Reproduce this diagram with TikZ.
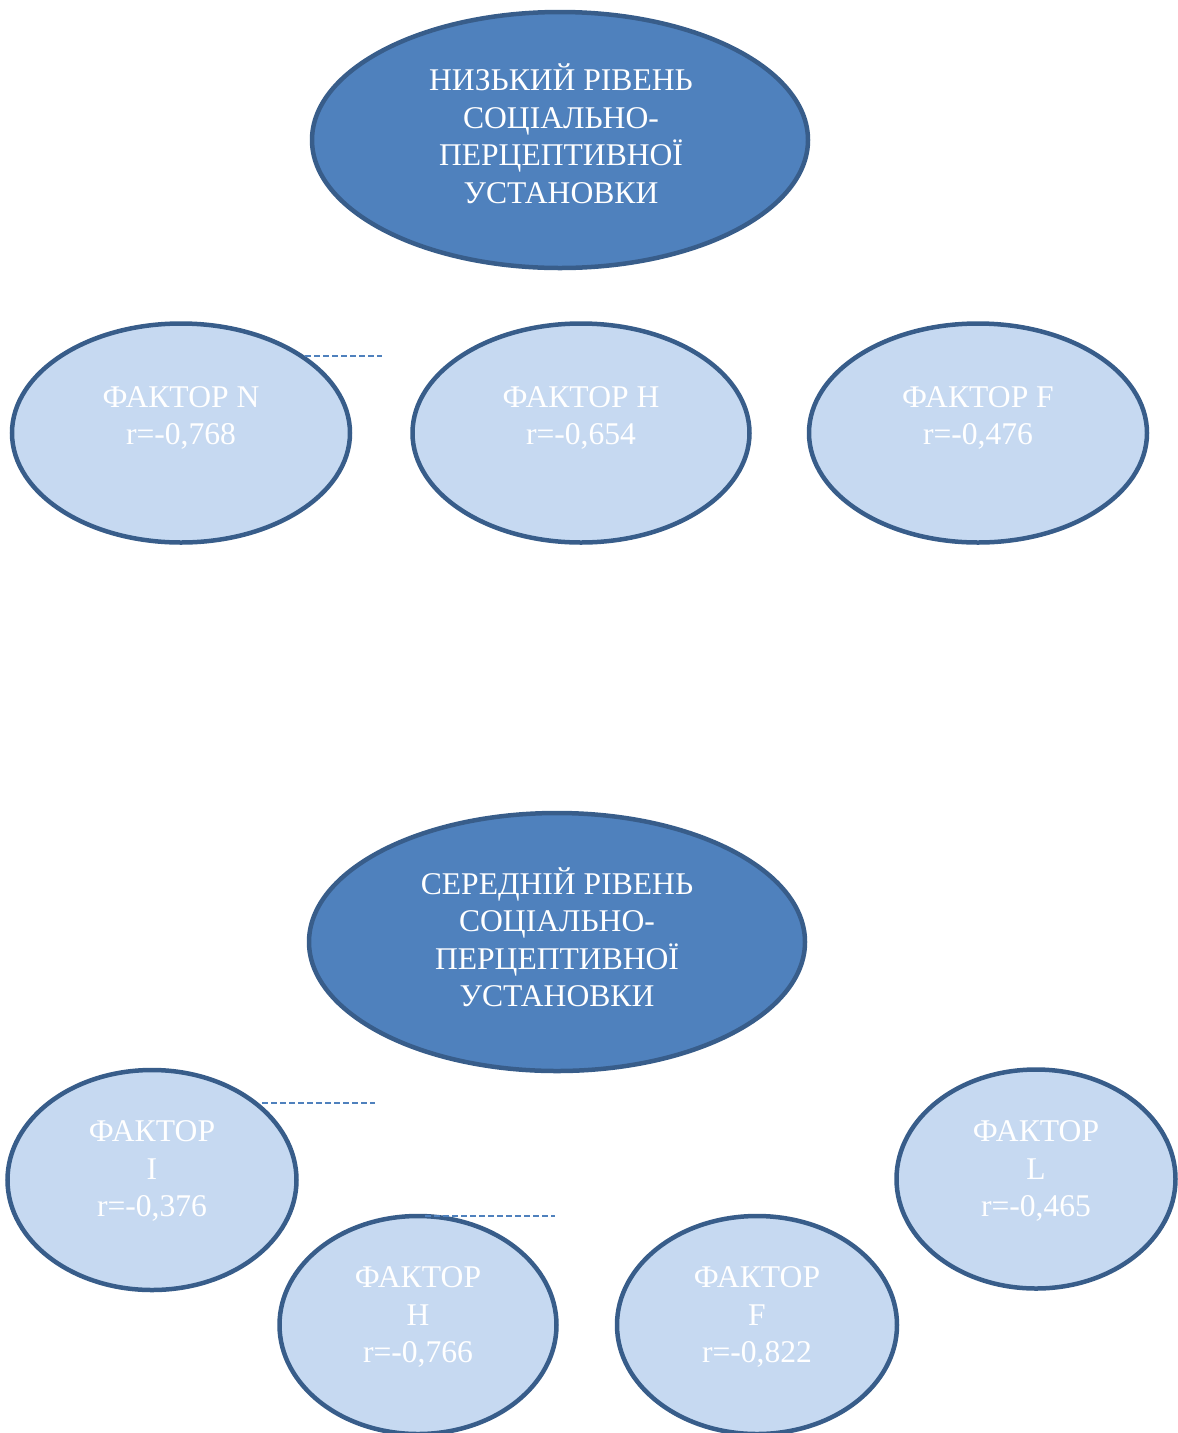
\documentclass[tikz,border=0pt]{standalone}
\usepackage{fontspec}
\setmainfont{Liberation Serif}
\usetikzlibrary{shapes.geometric}
\definecolor{darkfill}{HTML}{4F81BD}
\definecolor{lightfill}{HTML}{C6D9F1}
\definecolor{edge}{HTML}{385D8A}
\tikzset{
  bigell/.style={ellipse, draw=edge, fill=darkfill, line width=4.5pt, inner sep=0pt},
  smallell/.style={ellipse, draw=edge, fill=lightfill, line width=4.5pt, inner sep=0pt},
  txt/.style={text=white, align=center, font=\fontsize{31.6}{37.5}\selectfont, inner sep=0pt},
  dashline/.style={draw=darkfill, line width=1.5pt, dash pattern=on 6pt off 3pt}
}
\begin{document}
\begin{tikzpicture}[x=1pt,y=-1pt]
\clip (0,0) rectangle (1178,1433);
\useasboundingbox (0,0) rectangle (1178,1433);
% top group
\node[bigell, minimum width=496pt, minimum height=256pt] (low) at (560,140) {};
\node[txt] (lowt) at (561,134) {НИЗЬКИЙ РІВЕНЬ\\СОЦІАЛЬНО-\\ПЕРЦЕПТИВНОЇ\\УСТАНОВКИ};
\node[smallell, minimum width=338pt, minimum height=219pt] (n1) at (181,433) {};
\node[txt] (n1t) at (181,418) {ФАКТОР N\\r=-0,768};
\node[smallell, minimum width=337pt, minimum height=219pt] (h1) at (581,433) {};
\node[txt] (h1t) at (581,418) {ФАКТОР H\\r=-0,654};
\node[smallell, minimum width=338pt, minimum height=219pt] (f1) at (978,433) {};
\node[txt] (f1t) at (978,418) {ФАКТОР F\\r=-0,476};
\coordinate (d1a) at (305,356);
\coordinate (d1b) at (382,356);
\draw[dashline] (d1a) -- (d1b);
% middle group
\node[bigell, minimum width=496pt, minimum height=258pt] (mid) at (557,942) {};
\node[txt] (midt) at (557,937) {СЕРЕДНІЙ РІВЕНЬ\\СОЦІАЛЬНО-\\ПЕРЦЕПТИВНОЇ\\УСТАНОВКИ};
\node[smallell, minimum width=289pt, minimum height=220pt] (i2) at (152,1180) {};
\node[txt] (i2t) at (152,1171) {ФАКТОР\\I\\r=-0,376};
\node[smallell, minimum width=279pt, minimum height=219pt] (l2) at (1036,1179) {};
\node[txt] (l2t) at (1036,1171) {ФАКТОР\\L\\r=-0,465};
\node[smallell, minimum width=277pt, minimum height=218pt] (h2) at (418,1325) {};
\node[txt] (h2t) at (418,1317) {ФАКТОР\\H\\r=-0,766};
\node[smallell, minimum width=280pt, minimum height=218pt] (f2) at (757,1325) {};
\node[txt] (f2t) at (757,1317) {ФАКТОР\\F\\r=-0,822};
\coordinate (d2a) at (262,1103);
\coordinate (d2b) at (375,1103);
\draw[dashline] (d2a) -- (d2b);
\coordinate (d3a) at (425,1216);
\coordinate (d3b) at (555,1216);
\draw[dashline] (d3a) -- (d3b);
\end{tikzpicture}
\end{document}
